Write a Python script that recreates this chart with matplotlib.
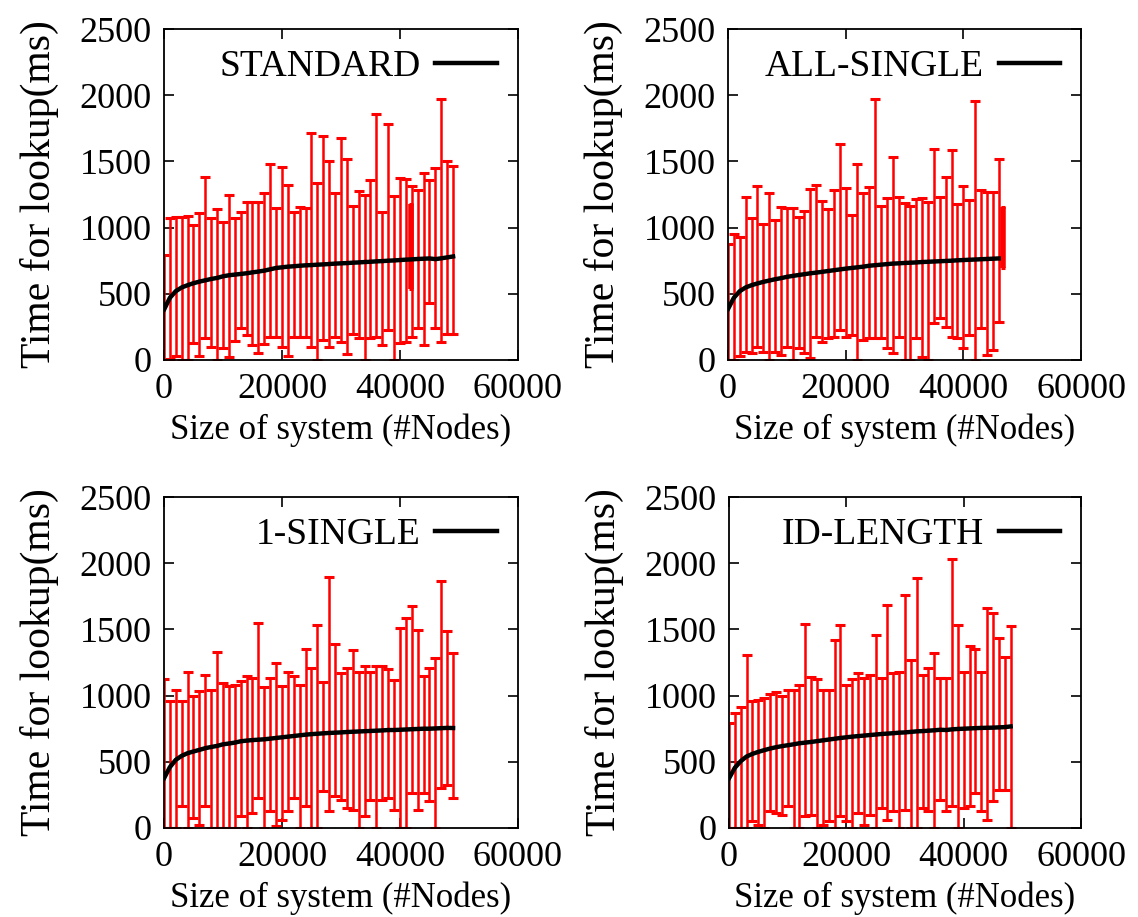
import matplotlib
matplotlib.use("Agg")
import matplotlib.pyplot as plt
import numpy as np

# ---------------- data ----------------
step = 1000  # node spacing between samples

std_mean = [380, 470, 520, 548, 565, 580, 592, 602, 612, 620, 632, 640, 645, 650, 655, 662, 668, 675, 685, 695,
            700, 705, 708, 712, 715, 717, 720, 722, 725, 728, 730, 732, 735, 737, 740, 742, 745, 747, 750, 752,
            755, 758, 760, 763, 765, 767, 762, 768, 775, 782]
std_high = [790, 1075, 1080, 1080, 1085, 1020, 1110, 1385, 1070, 1140, 1045, 1245, 1070, 1120, 1195, 1195, 1190,
            1265, 1480, 1145, 1455, 1325, 1120, 1155, 1145, 1715, 1335, 1690, 1505, 1260, 1675, 1515, 1160, 1275,
            1245, 1360, 1860, 1120, 1785, 1235, 1375, 1365, 1315, 1285, 1415, 1360, 1450, 1975, 1500, 1465]
std_low = [0, 10, 30, 0, 0, 125, 30, 165, 100, 0, 90, 20, 140, 240, 190, 110, 50, 120, 170, 175,
           100, 30, 175, 175, 176, 100, 0, 150, 100, 176, 138, 43, 200, 163, 0, 163, 176, 113, 226, 0,
           126, 138, 176, 240, 113, 428, 240, 138, 200, 200]
std_extra = (41900, 540, 1180)  # dense overlapping bars (x, low, high)

alls_mean = [385, 470, 520, 548, 565, 578, 590, 600, 610, 618, 628, 635, 642, 648, 655, 660, 666, 672, 678, 684,
             690, 695, 700, 705, 712, 716, 720, 724, 728, 730, 733, 735, 737, 740, 742, 744, 746, 748, 750, 753,
             755, 757, 759, 761, 763, 765, 767]
alls_high = [873, 948, 930, 1228, 1069, 1313, 1026, 1263, 1057, 1157, 1145, 1145, 1077, 1124, 1288, 1321, 1203,
             1140, 1283, 1628, 1296, 1094, 1477, 1258, 1308, 1970, 1162, 1220, 1535, 1233, 1187, 1162, 1213, 1220,
             1195, 1597, 1233, 1379, 1585, 1182, 1313, 1208, 1957, 1283, 1270, 1270, 1515]
alls_low = [0, 0, 30, 63, 50, 100, 63, 0, 63, 38, 100, 0, 88, 50, 12, 176, 138, 163, 176, 226,
            176, 189, 0, 151, 163, 163, 163, 88, 50, 176, 0, 0, 163, 25, 0, 277, 314, 252, 176, 163,
            88, 189, 0, 239, 38, 75, 290]
alls_extra = (46800, 692, 1157)

one_mean = [375, 460, 515, 545, 565, 578, 590, 603, 612, 620, 632, 638, 645, 655, 660, 664, 667, 670, 675, 680,
            685, 690, 695, 700, 705, 709, 712, 715, 718, 720, 722, 725, 727, 729, 731, 733, 735, 737, 740, 740,
            742, 744, 746, 748, 750, 750, 752, 754, 756, 755]
one_high = [1125, 956, 1039, 956, 1182, 999, 1031, 1157, 1039, 1333, 1094, 1069, 1082, 1107, 1145, 1132, 1552,
            1064, 1132, 1245, 1069, 1175, 1145, 1082, 1351, 1208, 1535, 1099, 1894, 1389, 1170, 1208, 1346, 1182,
            1220, 1182, 1220, 1220, 1200, 1119, 1514, 1585, 1673, 1497, 1150, 1208, 1283, 1862, 1490, 1321]
one_low = [0, 0, 0, 164, 0, 75, 25, 164, 0, 0, 0, 0, 0, 88, 0, 113, 226, 0, 126, 12,
           63, 126, 226, 0, 164, 0, 0, 277, 126, 239, 214, 151, 138, 0, 88, 214, 0, 214, 226, 138,
           0, 0, 264, 138, 264, 201, 0, 302, 327, 226]

idl_mean = [375, 455, 505, 540, 560, 575, 588, 600, 610, 618, 625, 632, 640, 645, 650, 656, 662, 668, 674, 680,
            685, 690, 694, 698, 702, 706, 710, 713, 716, 720, 722, 726, 730, 732, 735, 738, 742, 740, 745, 748,
            750, 752, 754, 756, 757, 758, 760, 762, 767]
idl_high = [792, 868, 913, 1308, 956, 965, 981, 1011, 1030, 994, 1039, 1044, 1082, 1542, 1137, 1125, 1044, 1044,
            1421, 1530, 1082, 1125, 1170, 1132, 1157, 1459, 1132, 1688, 1170, 1182, 1761, 1270, 1887, 1157, 1208,
            1321, 1132, 1132, 2028, 1535, 1175, 1371, 1351, 1175, 1660, 1623, 1434, 1290, 1522]
idl_low = [0, 0, 0, 0, 50, 25, 0, 126, 113, 100, 164, 0, 0, 88, 100, 0, 25, 50, 0, 88,
           50, 0, 113, 25, 100, 0, 151, 63, 126, 0, 138, 0, 0, 151, 126, 0, 214, 126, 164, 0,
           151, 164, 264, 126, 63, 201, 289, 289, 0]

panel_names = ["STANDARD", "ALL-SINGLE", "1-SINGLE", "ID-LENGTH"]
x_ticks = [0, 20000, 40000, 60000]
y_ticks = [0, 500, 1000, 1500, 2000, 2500]
x_label = "Size of system (#Nodes)"
y_label = "Time for lookup(ms)"

panels = [
    (panel_names[0], std_mean, std_high, std_low, std_extra),
    (panel_names[1], alls_mean, alls_high, alls_low, alls_extra),
    (panel_names[2], one_mean, one_high, one_low, None),
    (panel_names[3], idl_mean, idl_high, idl_low, None),
]

# ---------------- layout ----------------
W, H = 1138, 917
rects = [(164, 29, 518, 360), (728, 29, 1081, 360), (164, 497, 518, 828), (729, 497, 1081, 828)]

plt.rcParams["font.family"] = ["Liberation Serif", "DejaVu Serif"]
fig = plt.figure(figsize=(W / 100, H / 100), dpi=100)

for (name, mean, high, low, extra), (l, t, r, b) in zip(panels, rects):
    ax = fig.add_axes([l / W, 1 - b / H, (r - l) / W, (b - t) / H])
    mean = np.array(mean, float)
    high = np.array(high, float)
    low = np.array(low, float)
    x = np.arange(len(mean)) * step
    ax.errorbar(x, mean, yerr=[mean - low, high - mean], fmt="none", ecolor="#ff0000",
                elinewidth=1.8, capsize=3.8, capthick=2.2, zorder=2)
    if extra is not None:
        ex, elo, ehi = extra
        ax.vlines(ex, elo, ehi, color="#ff0000", lw=4, zorder=2)
        ax.hlines([elo, ehi], ex - 350, ex + 350, color="#ff0000", lw=2.2, zorder=2)
    ax.plot(x, mean, color="black", lw=3.2, zorder=3, label=name)
    ax.set_xlim(0, 60000)
    ax.set_ylim(0, 2500)
    ax.set_xticks(x_ticks)
    ax.set_yticks(y_ticks)
    ax.tick_params(direction="in", length=7, width=1.2, labelsize=26, top=True, right=True, pad=9)
    for s in ax.spines.values():
        s.set_linewidth(1.3)
    ax.set_xlabel(x_label, fontsize=25, labelpad=6)
    ax.set_ylabel(y_label, fontsize=30, labelpad=15)
    ax.legend(loc="upper right", frameon=False, markerfirst=False, fontsize=27,
              handlelength=1.65, handletextpad=0.4, borderaxespad=0.15)

fig.savefig("out.png", dpi=100, facecolor="white")
